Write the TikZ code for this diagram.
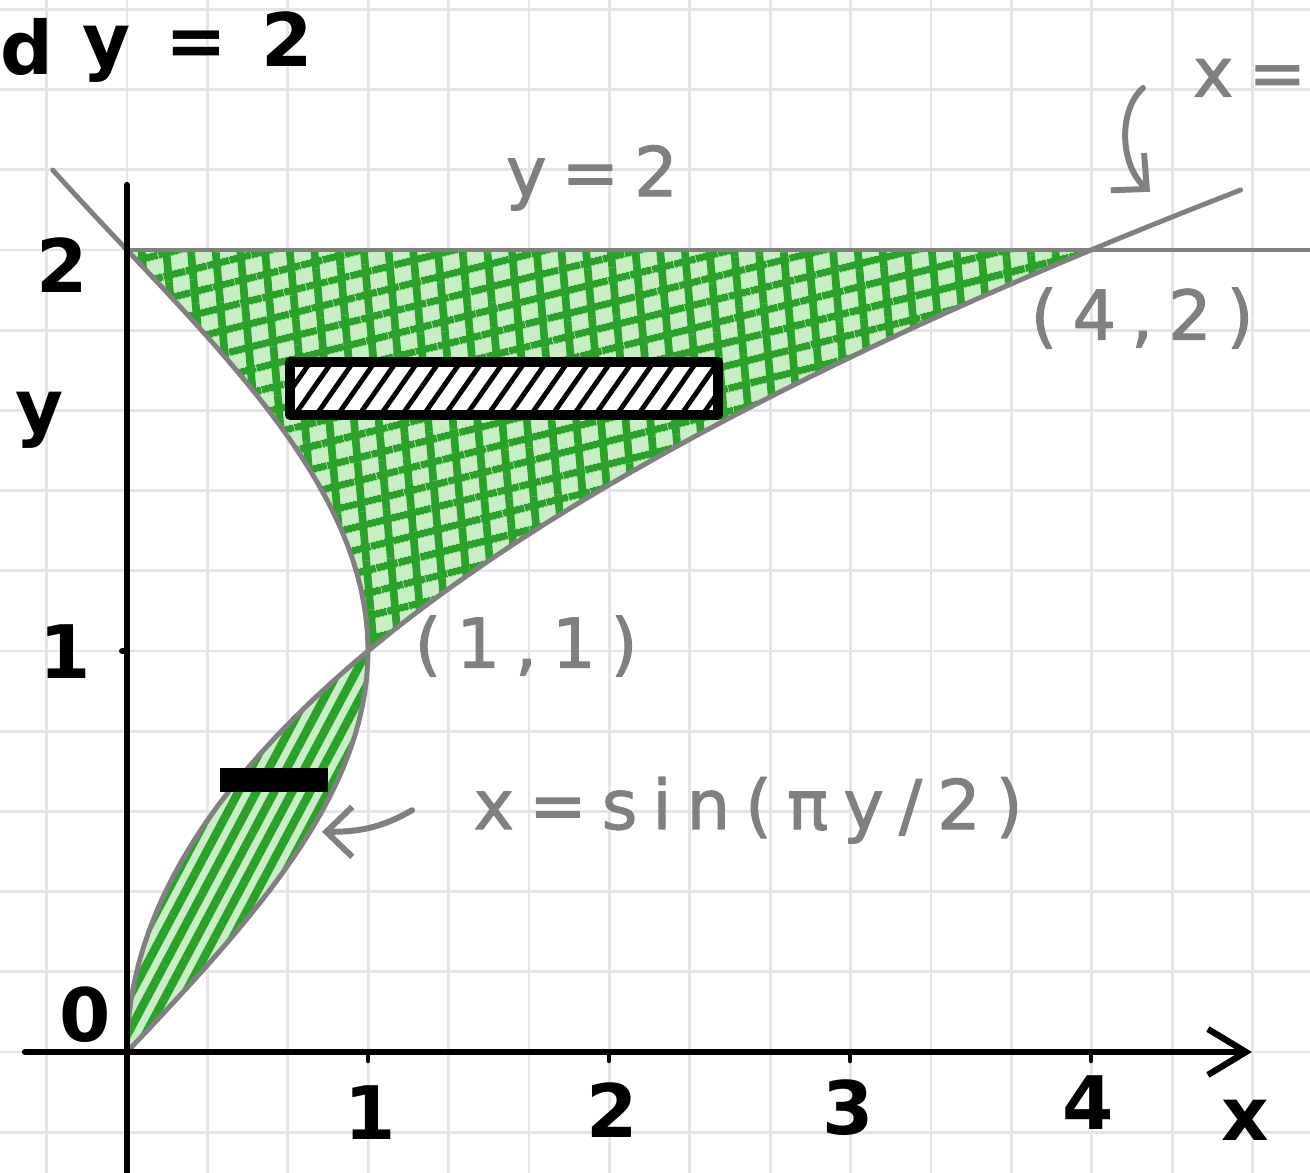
\documentclass[tikz,border=0pt]{standalone}
\usepackage{fontspec}
\setmainfont{DejaVu Sans}
\newfontfamily\handfont[LetterSpace=22, FakeBold=1.6]{DejaVu Sans}
\newfontfamily\inkfont[LetterSpace=12]{DejaVu Sans}
\usetikzlibrary{arrows.meta, patterns.meta}

\definecolor{hatchgreen}{RGB}{42,162,42}
\definecolor{hatchpale}{RGB}{200,238,195}
\definecolor{curvegray}{RGB}{128,128,128}
\definecolor{gridgray}{RGB}{228,228,233}

\begin{document}
\begin{tikzpicture}[x=2.41cm, y=4.01cm, line cap=round, line join=round]
  \tikzstyle{curve} = [curvegray, line width=1.4pt]
  \tikzstyle{axis} = [black, line width=1.8pt]
  \tikzstyle{ink} = [text=black, inner sep=0pt, font=\inkfont\bfseries\fontsize{21}{24}\selectfont]
  \tikzstyle{pencil} = [text=curvegray, inner sep=0pt, font=\handfont\fontsize{19.5}{22}\selectfont]
  \tikzstyle{pointer} = [curvegray, line width=1.7pt, -{Straight Barb[length=2.6mm,width=5mm]}]
  \tikzstyle{hatchflat} = [pattern={Lines[angle=14,distance=6.5pt,line width=2.2pt]}, pattern color=hatchgreen]
  \tikzstyle{hatchup} = [pattern={Lines[angle=95,distance=7pt,line width=2.2pt]}, pattern color=hatchgreen]
  \tikzstyle{hatchsteep} = [pattern={Lines[angle=62,distance=4.5pt,line width=2.4pt]}, pattern color=hatchgreen]

  \useasboundingbox (-0.52697,-0.30175) rectangle (4.90871,2.62344);

  % squared paper
  \draw[gridgray, line width=0.8pt, xstep=0.804cm, ystep=0.802cm] (-0.53,-0.31) grid (4.91,2.63);

  % region between x = y^2 and x = sin(pi y/2)
  \path[preaction={fill=hatchpale}, hatchflat, postaction={hatchup}]
    plot[domain=1:2, samples=40, variable=\t] ({sin(90*\t)}, \t)
    -- plot[domain=2:1, samples=40, variable=\t] ({\t*\t}, \t) -- cycle;
  \path[preaction={fill=hatchpale}, hatchsteep]
    plot[domain=0:1, samples=30, variable=\t] ({\t*\t}, \t)
    -- plot[domain=1:0, samples=30, variable=\t] ({sin(90*\t)}, \t) -- cycle;

  % the curves and y = 2
  \draw[curve] plot[domain=0:2.15, samples=50, variable=\t] ({\t*\t}, \t);
  \draw[curve] plot[domain=0:2.2, samples=60, variable=\t] ({sin(90*\t)}, \t);
  \draw[curve] (0,2) -- (4.91,2);

  % strips
  \draw[line width=3pt, preaction={fill=white}, pattern={Lines[angle=55,distance=5pt,line width=1.4pt]}, pattern color=black]
    (0.676,1.589) rectangle (2.452,1.721);
  \fill (0.386,0.648) rectangle (0.834,0.708);

  % axes
  \draw[axis, -{Straight Barb[length=3.8mm,width=4.6mm]}] (-0.423,0) -- (4.668,0);
  \draw[axis] (0,-0.31) -- (0,2.162);
  \foreach \k in {1,...,4} \draw[axis, line width=1.4pt] (\k,0) -- (\k,-0.022);
  \draw[axis] (0,1) -- (-0.02,1);

  % black labels
  \node[ink] (ttl) at (0.295,2.506) {y = 2};
  \node[ink, anchor=west] (ttlcut) at (-0.527,2.506) {d};
  \node[ink] (ylab) at (-0.361,1.576) {y};
  \node[ink] (ytwo) at (-0.27,1.963) {2};
  \node[ink] (yone) at (-0.257,0.998) {1};
  \node[ink] (yzero) at (-0.174,0.092) {0};
  \node[ink] (xone) at (1.008,-0.150) {1};
  \node[ink] (xtwo) at (2.012,-0.145) {2};
  \node[ink] (xthree) at (2.992,-0.140) {3};
  \node[ink] (xfour) at (3.988,-0.127) {4};
  \node[ink] (xlab) at (4.639,-0.170) {x};

  % gray labels
  \node[pencil] (linelab) at (1.929,2.180) {y=2};
  \node[pencil] (pfar) at (4.212,1.830) {(4,2)};
  \node[pencil] (pmeet) at (1.656,1.012) {(1,1)};
  \node[pencil] (sinlab) at (2.577,0.603) {x=sin(πy/2)};
  \node[pencil, anchor=east] (sqlab) at (4.895,2.429) {x=};

  \coordinate (sintail) at (1.183,0.603);
  \coordinate (sintip) at (0.809,0.549);
  \draw[pointer] (sintail) to[out=-150,in=0] (sintip);

  \coordinate (sqtail) at (4.216,2.404);
  \coordinate (sqtip) at (4.245,2.145);
  \draw[pointer] (sqtail) .. controls (4.112,2.349) and (4.12,2.212) .. (sqtip);
\end{tikzpicture}
\end{document}
